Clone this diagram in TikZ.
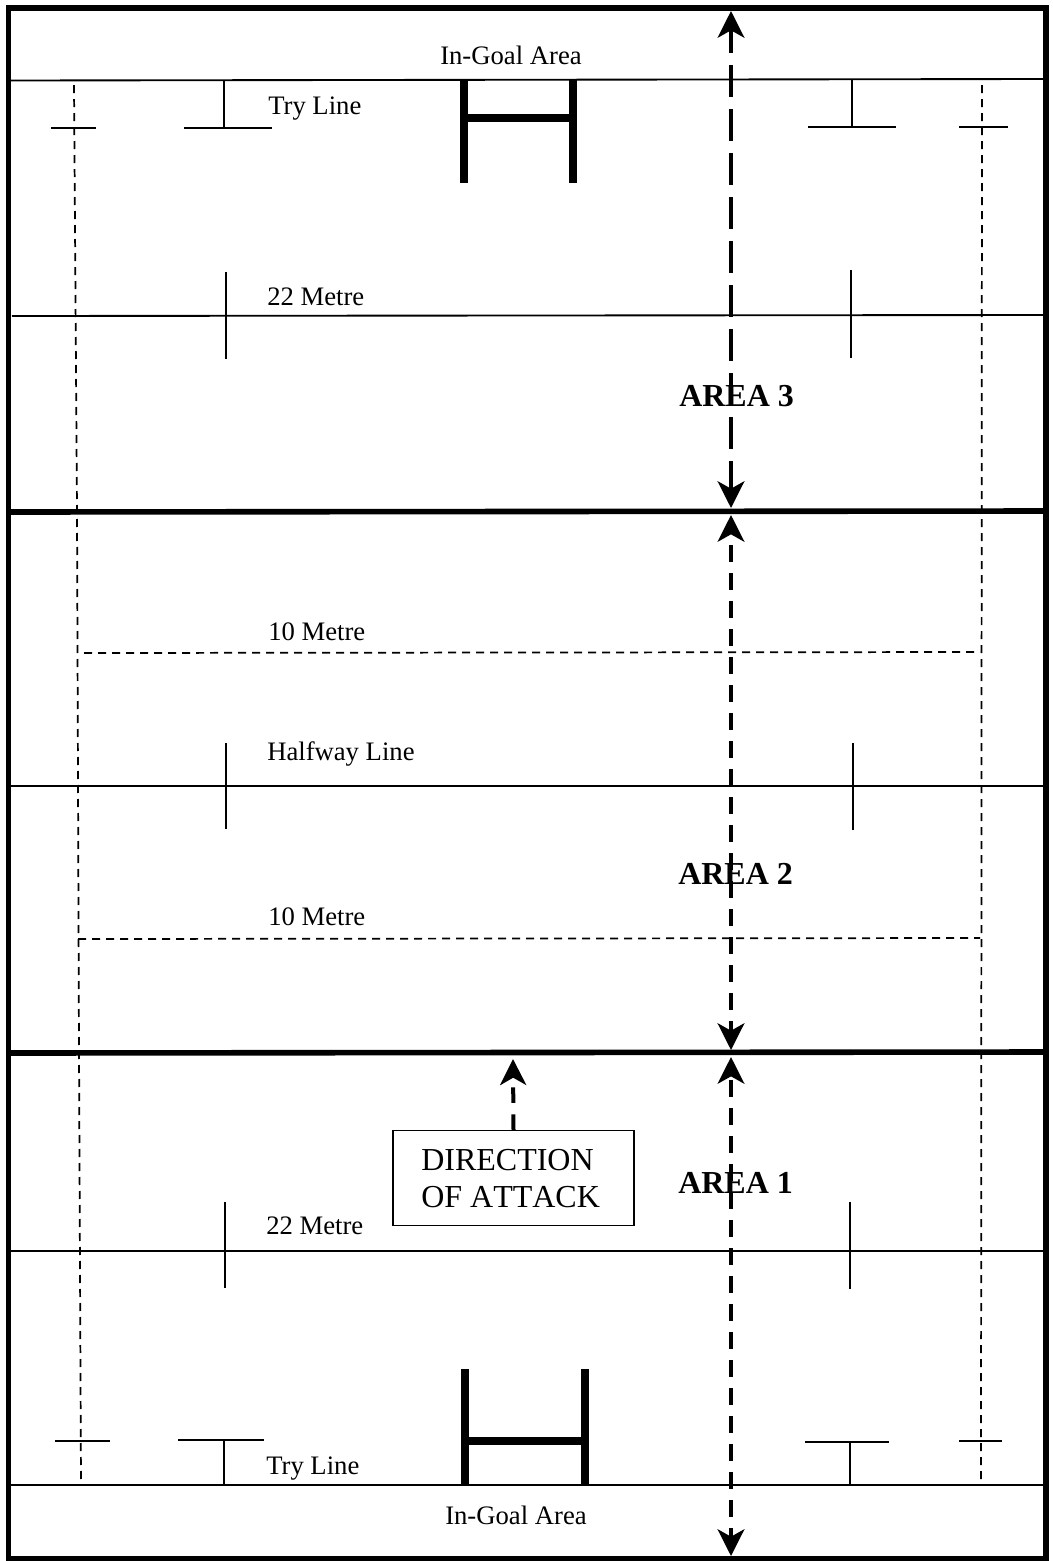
\documentclass[tikz,border=0pt]{standalone}
\usepackage{fontspec}
\setmainfont{Liberation Serif}
\usetikzlibrary{arrows.meta}
\tikzset{
  x=0.75pt,y=-0.75pt,
  thinl/.style={line width=1.4pt,black},
  dashl/.style={line width=1.3pt,black,dash pattern=on 6pt off 4.5pt},
  thickl/.style={line width=4.2pt,black},
  post/.style={line width=5.4pt,black},
  bigarrow/.style={line width=3pt,{Stealth[length=20pt,width=20pt,inset=5.5pt]}-{Stealth[length=20pt,width=20pt,inset=5.5pt]}},
  lab/.style={inner sep=0pt,anchor=base west,font=\fontsize{20}{23}\selectfont},
  arealab/.style={inner sep=0pt,anchor=base west,font=\fontsize{24}{28}\selectfont\bfseries},
  dirtext/.style={inner sep=0pt,anchor=base west,font=\fontsize{24}{28}\selectfont},
  dirbox/.style={draw,line width=1.2pt,minimum width=181pt,minimum height=71pt,inner sep=0pt},
}
\begin{document}
\begin{tikzpicture}
\useasboundingbox (0,0) rectangle (1053,1561);
\fill[white] (0,0) rectangle (1053,1561);
% thin solid field lines
\draw[thinl] (10,80.5) -- (1043,79);
\draw[thinl] (12,316) -- (1043,315);
\draw[thinl] (10,786) -- (1043,786);
\draw[thinl] (10,1251) -- (1043,1251);
\draw[thinl] (10,1485) -- (1043,1485);
% upper marks
\draw[thinl] (224,80) -- (224,128); \draw[thinl] (184,128) -- (272,128);
\draw[thinl] (852,80) -- (852,127); \draw[thinl] (808,127) -- (896,127);
\draw[thinl] (51,128) -- (96,128);
\draw[thinl] (959,127) -- (1008,127);
\draw[thinl] (226,272) -- (226,359);
\draw[thinl] (851,270) -- (851,358);
\draw[thinl] (226,743) -- (226,829);
\draw[thinl] (853,743) -- (853,830);
\draw[thinl] (225,1202) -- (225,1288);
\draw[thinl] (850,1202) -- (850,1289);
% lower marks
\draw[thinl] (224,1440) -- (224,1485); \draw[thinl] (178,1440) -- (264,1440);
\draw[thinl] (850,1442) -- (850,1485); \draw[thinl] (805,1442) -- (889,1442);
\draw[thinl] (55,1441) -- (110,1441);
\draw[thinl] (959,1441) -- (1002,1441);
% dashed touch lines
\draw[dashl] (74,85) -- (77,510) -- (79,1050) -- (81,1485);
\draw[dashl] (982,85) -- (981,1485);
\draw[dashl] (84,653) -- (980,652);
\draw[dashl] (78,939) -- (980,938);
% thick section lines and border
\draw[thickl] (8,512) -- (1045,511);
\draw[thickl] (8,1053) -- (1045,1052);
\draw[thickl] (8.5,8) rectangle (1046,1559);
% posts
\draw[post] (464,80) -- (464,183);
\draw[post] (573,80) -- (573,183);
\draw[post] (464,118) -- (573,118);
\draw[post] (465,1369) -- (465,1485);
\draw[post] (585,1369) -- (585,1485);
\draw[post] (465,1441) -- (585,1441);
% double arrows
\coordinate (a1) at (731,11);
\coordinate (a2) at (731,508);
\coordinate (a3) at (731,515);
\coordinate (a4) at (731,1050);
\coordinate (a5) at (731,1057);
\coordinate (a6) at (731,1556);
\draw[bigarrow,dash pattern=on 24pt off 9pt,dash phase=5.75pt] (a1) -- (a2);
\draw[bigarrow,dash pattern=on 12.75pt off 8.25pt,dash phase=11.75pt] (a3) -- (a4);
\draw[bigarrow,dash pattern=on 12.75pt off 8.25pt,dash phase=17pt] (a5) -- (a6);
% labels
\node[lab] (ig1) at (440,64) {In-Goal Area};
\node[lab] (tl1) at (268,114) {Try Line};
\node[lab] (m22a) at (267,305) {22 Metre};
\node[lab] (m10a) at (268,640) {10 Metre};
\node[lab] (hw) at (267,760) {Halfway Line};
\node[lab] (m10b) at (268,925) {10 Metre};
\node[lab] (m22b) at (266,1234) {22 Metre};
\node[lab] (tl2) at (266,1474) {Try Line};
\node[lab] (ig2) at (445,1524) {In-Goal Area};
\node[arealab] (ar3) at (679,406) {AREA 3};
\node[arealab] (ar2) at (678,884) {AREA 2};
\node[arealab] (ar1) at (678,1193) {AREA 1};
% direction box
\node[dirbox,fill=none] (dir) at (513.5,1178) {};
\node[dirtext] (d1) at (421,1170) {DIRECTION};
\node[dirtext] (d2) at (421,1207) {\addfontfeature{Kerning=Off}OF ATTACK};
\coordinate (dt) at (513,1059);
\draw[line width=3pt,dash pattern=on 11.6pt off 8.6pt,-{Stealth[length=19.5pt,width=19.5pt,inset=5.5pt]}] (dir.north) -- (dt);
\end{tikzpicture}
\end{document}
